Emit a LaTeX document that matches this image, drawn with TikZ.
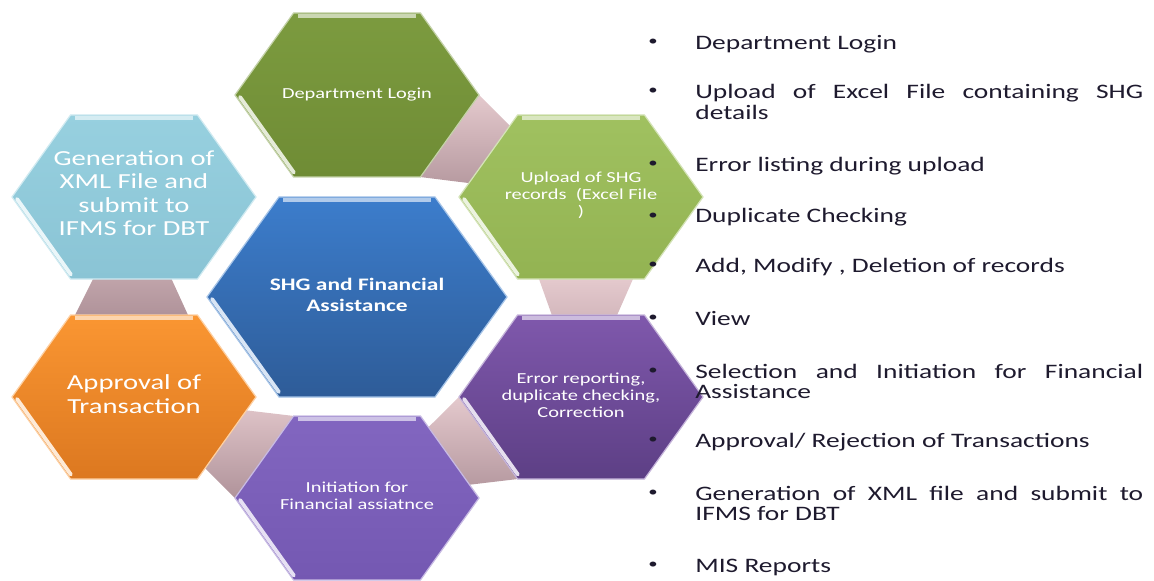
\documentclass[tikz,border=0pt]{standalone}
\usepackage{fontspec}
\setmainfont{Carlito}[FakeStretch=1.335]
\usetikzlibrary{calc}

\definecolor{dltop}{HTML}{7C9B3F}
\definecolor{dlbot}{HTML}{6F8C35}
\definecolor{uptop}{HTML}{A0C160}
\definecolor{upbot}{HTML}{93B352}
\definecolor{xmltop}{HTML}{97D0DF}
\definecolor{xmlbot}{HTML}{8AC4D5}
\definecolor{shgtop}{HTML}{3C7DCC}
\definecolor{shgbot}{HTML}{2E5C98}
\definecolor{aptop}{HTML}{FA9632}
\definecolor{apbot}{HTML}{DC7820}
\definecolor{errtop}{HTML}{7F58AC}
\definecolor{errbot}{HTML}{5D3F85}
\definecolor{intop}{HTML}{8266C0}
\definecolor{inbot}{HTML}{7458B2}
\definecolor{linktop}{HTML}{E4C9CD}
\definecolor{linkbot}{HTML}{B0939A}
\definecolor{listtext}{HTML}{1E1A2E}

% #1 centre, #2 half width, #3 half height, #4 top colour, #5 bottom colour
\newcommand{\hexa}[5]{%
  \shadedraw[top color=#4, bottom color=#5, draw=#4!45!white, line width=0.7pt]
    ($(#1)+(-#2,0)$) -- ($(#1)+(-0.52*#2,-#3)$) -- ($(#1)+(0.52*#2,-#3)$)
    -- ($(#1)+(#2,0)$) -- ($(#1)+(0.52*#2,#3)$) -- ($(#1)+(-0.52*#2,#3)$) -- cycle;
  \draw[#4!40!white, line width=1.8pt]
    ($(#1)+(-0.52*#2+4,-#3+3)$) -- ($(#1)+(0.52*#2-4,-#3+3)$);
  \draw[white!80!#4, line width=2.2pt, line cap=round]
    ($(#1)+(-#2+5,2)$) -- ($(#1)+(-0.534*#2+2,0.97*#3-2)$);
}

\begin{document}
\begin{tikzpicture}[x=0.02cm, y=-0.02cm,
  small/.style={text=white, align=center, font=\fontsize{8.7}{9.6}\selectfont},
  large/.style={text=white, align=center, font=\fontsize{12.2}{13.4}\selectfont},
  item/.style={anchor=base west, inner sep=0pt, text width=8.96cm, align=justify,
    text=listtext, font=\fontsize{11.7}{11.4}\selectfont},
  dot/.style={anchor=base, inner sep=0pt, text=listtext, font=\fontsize{8}{8}\selectfont},
  link/.style={top color=linktop, bottom color=linkbot}]
\useasboundingbox (0,0) rectangle (1154,581);

% hexagon centres
\coordinate (dl) at (357,95);
\coordinate (upload) at (581,197);
\coordinate (error) at (581,397);
\coordinate (init) at (357,498);
\coordinate (approval) at (134,397);
\coordinate (xml) at (134,197);
\coordinate (shg) at (357,297);

% links, wide on the side they leave
\shade[link] ($(dl)+(122,0)$) -- ($(dl)+(63,82)$) -- (upload) -- cycle;
\shade[link] ($(upload)+(-42,82)$) -- ($(upload)+(52,82)$) -- (error) -- cycle;
\shade[link] ($(error)+(-122,0)$) -- ($(error)+(-63,82)$) -- (init) -- cycle;
\shade[link] ($(init)+(-63,-82)$) -- ($(init)+(-122,0)$) -- (approval) -- cycle;
\shade[link] ($(approval)+(-59,-82)$) -- ($(approval)+(54,-82)$) -- (xml) -- cycle;

\hexa{dl}{122}{82}{dltop}{dlbot}
\hexa{xml}{122}{82}{xmltop}{xmlbot}
\hexa{upload}{122}{82}{uptop}{upbot}
\hexa{shg}{150}{100}{shgtop}{shgbot}
\hexa{approval}{122}{82}{aptop}{apbot}
\hexa{error}{122}{82}{errtop}{errbot}
\hexa{init}{122}{82}{intop}{inbot}

\node[small]
(dltext) at (dl) {Department Login};
\node[small]
(uploadtext) at ($(upload)+(0,-2)$) {Upload of SHG\\records~ (Excel File\\)};
\node[large]
(xmltext) at ($(xml)+(0,-4)$) {Generation of\\XML File and\\submit to\\IFMS for DBT};
\node[text=white, align=center, font=\bfseries\fontsize{10}{11.7}\selectfont]
(shgtext) at ($(shg)+(0,-2)$) {SHG and Financial\\Assistance};
\node[large, font=\fontsize{12.2}{13.6}\selectfont]
(approvaltext) at ($(approval)+(0,-3)$) {Approval of\\Transaction};
\node[small]
(errortext) at ($(error)+(0,-2)$) {Error reporting,\\duplicate checking,\\Correction};
\node[small]
(inittext) at ($(init)+(0,-2)$) {Initiation for\\Financial assiatnce};

% function list
\node[dot] (b1) at (653,46) {\textbullet};
\node[dot] (b2) at (653,95) {\textbullet};
\node[dot] (b3) at (653,168) {\textbullet};
\node[dot] (b4) at (653,219) {\textbullet};
\node[dot] (b5) at (653,269) {\textbullet};
\node[dot] (b6) at (653,321) {\textbullet};
\node[dot] (b7) at (653,374) {\textbullet};
\node[dot] (b8) at (653,443) {\textbullet};
\node[dot] (b9) at (653,496) {\textbullet};
\node[dot] (b10) at (653,568) {\textbullet};
\node[item] (i1) at (695,50) {Department Login};
\node[item] (i2) at (695,99) {Upload of Excel File containing SHG\linebreak details};
\node[item] (i3) at (695,172) {Error listing during upload};
\node[item] (i4) at (695,223) {Duplicate Checking};
\node[item] (i5) at (695,273) {Add, Modify , Deletion of records};
\node[item] (i6) at (695,325) {View};
\node[item] (i7) at (695,378) {Selection and Initiation for Financial\linebreak Assistance};
\node[item] (i8) at (695,447) {Approval/ Rejection of Transactions};
\node[item] (i9) at (695,500) {Generation of XML file and submit to\linebreak IFMS for DBT};
\node[item] (i10) at (695,572) {MIS Reports};
\end{tikzpicture}
\end{document}
